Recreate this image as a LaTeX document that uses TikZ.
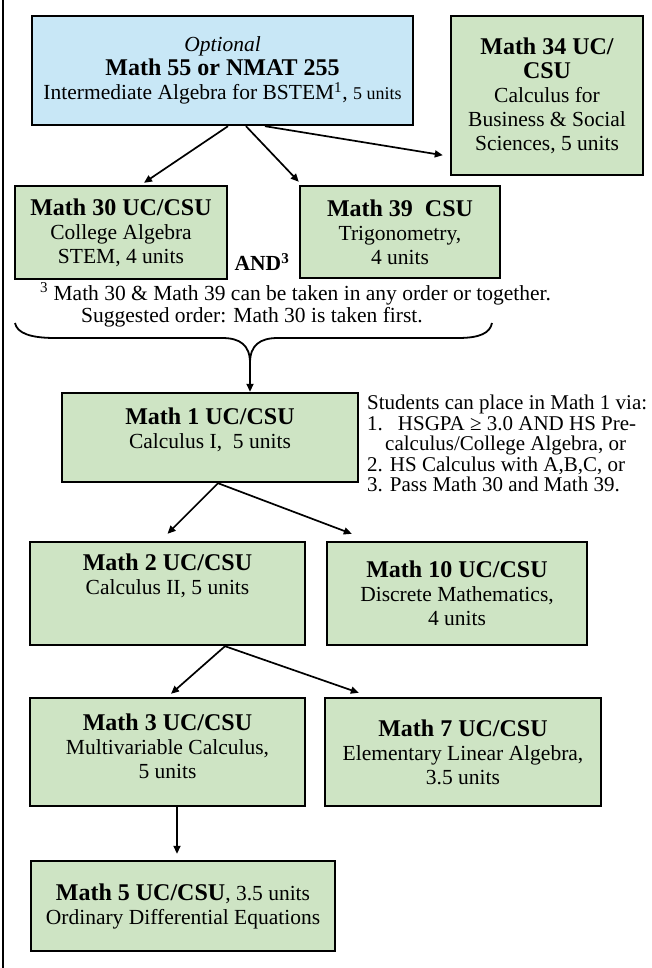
\documentclass[tikz,border=0pt]{standalone}
\usepackage{fontspec}
\setmainfont{Liberation Serif}
\usetikzlibrary{arrows.meta,calc}
\definecolor{boxgreen}{RGB}{206,228,196}
\definecolor{boxblue}{RGB}{200,231,246}
\newcommand{\mtitle}[1]{{\fontsize{24}{24}\selectfont\bfseries #1}}
\begin{document}
\begin{tikzpicture}[x=1pt,y=-1pt,
  course/.style={draw=black, line width=2.4pt, fill=boxgreen, inner sep=0pt, align=center, font=\fontsize{21.5}{24}\selectfont},
  txt/.style={inner sep=0pt, align=center, font=\fontsize{21.5}{24}\selectfont},
  arr/.style={line width=1.7pt, -{Triangle[length=8pt,width=7pt]}}]
\useasboundingbox (0,0) rectangle (651,968);
\draw[line width=2pt] (3,0) -- (3,968);

\node[course, fill=boxblue, minimum width=381pt, minimum height=109pt] (m55) at (222.5,70.5)
  {{\itshape Optional}\\\mtitle{Math 55 or NMAT 255}\\Intermediate Algebra for BSTEM\textsuperscript{1}, {\fontsize{18}{24}\selectfont 5 units}};
\node[course, minimum width=192pt, minimum height=159pt] (m34) at (547,95.5)
  {\mtitle{Math 34 UC/}\\\mtitle{CSU}\\Calculus for\\Business \& Social\\Sciences, 5 units};

\node[course, minimum width=212pt, minimum height=93pt] (m30) at (121,232.5)
  {\mtitle{Math 30 UC/CSU}\\College Algebra\\STEM, 4 units};
\node[course, minimum width=200pt, minimum height=92pt] (m39) at (400,232)
  {\mtitle{Math 39~ CSU}\\Trigonometry,\\4 units};
\node[txt, font=\fontsize{21.5}{24}\selectfont\bfseries] (and) at (262,262) {AND\textsuperscript{3}};

\node[txt, anchor=west] (note1) at (40,294) {\textsuperscript{3} Math 30 \& Math 39 can be taken in any order or together.};
\node[txt, anchor=west] (note2) at (81,317) {Suggested order: Math 30 is taken first.};

\coordinate (tip) at (250,363);
\draw[line width=1.8pt] (15,323) .. controls (17,333) and (30,338) .. (55,338) -- (222,338)
  .. controls (240,338) and (250,345) .. (tip)
  .. controls (250,345) and (260,338) .. (278,338) -- (458,338)
  .. controls (480,338) and (490,333) .. (492,323);

\node[course, minimum width=296pt, minimum height=89pt] (m1) at (210,437.5) {};
\node[txt] (m1t) at (210,430) {\mtitle{Math 1 UC/CSU}\\Calculus I,~ 5 units};

\node[txt, align=left, anchor=north west, font=\fontsize{21}{20.5}\selectfont] (place) at (367,395)
  {Students can place in Math 1 via:\\
   1.\hspace*{15pt}HSGPA ≥ 3.0 AND HS Pre-\\
   \hspace*{18pt}calculus/College Algebra, or\\
   2.\hspace*{7pt}HS Calculus with A,B,C, or\\
   3.\hspace*{7pt}Pass Math 30 and Math 39.};

\node[course, minimum width=275pt, minimum height=103pt] (m2) at (167.5,593.5) {};
\node[txt] (m2t) at (167.5,576) {\mtitle{Math 2 UC/CSU}\\Calculus II, 5 units};
\node[course, minimum width=260pt, minimum height=103pt] (m10) at (457,593.5)
  {\mtitle{Math 10 UC/CSU}\\Discrete Mathematics,\\4 units};

\node[course, minimum width=275pt, minimum height=108pt] (m3) at (167.5,752) {};
\node[txt] (m3t) at (167.5,746) {\mtitle{Math 3 UC/CSU}\\Multivariable Calculus,\\5 units};
\node[course, minimum width=276pt, minimum height=108pt] (m7) at (463,752)
  {\mtitle{Math 7 UC/CSU}\\Elementary Linear Algebra,\\3.5 units};

\node[course, minimum width=304pt, minimum height=90pt] (m5) at (183,906)
  {\mtitle{Math 5 UC/CSU}, 3.5 units\\Ordinary Differential Equations};

\draw[arr] ([xshift=5.5pt]m55.south) -- ([xshift=23pt,yshift=2pt]m30.north);
\draw[arr] ([xshift=23.5pt]m55.south) -- ([yshift=3pt]m39.north west);
\draw[arr] ([xshift=42.5pt]m55.south) -- ([xshift=-7pt,yshift=21pt]m34.south west);
\draw[arr] (tip) -- (tip |- m1.north);
\draw[arr] ([xshift=8pt]m1.south) -- ([yshift=7pt]m2.north);
\draw[arr] ([xshift=8pt]m1.south) -- ([xshift=26pt,yshift=7pt]m10.north west);
\draw[arr] ([xshift=57.5pt]m2.south) -- ([xshift=3.5pt,yshift=3pt]m3.north);
\draw[arr] ([xshift=57.5pt]m2.south) -- ([xshift=35pt,yshift=4pt]m7.north west);
\draw[arr] ([xshift=9.5pt]m3.south) -- ($(m3.south |- m5.north)+(9.5,-6)$);
\end{tikzpicture}
\end{document}
